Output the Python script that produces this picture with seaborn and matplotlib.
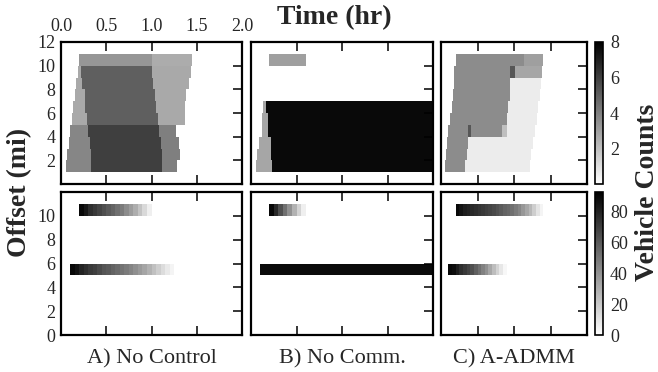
import numpy as np
import pandas as pd
import matplotlib
matplotlib.use("Agg")
import matplotlib.pyplot as plt
import seaborn as sns

sns.set_style("white")
plt.rcParams["font.family"] = ["Liberation Serif", "DejaVu Serif"]
plt.rcParams["axes.axisbelow"] = False

panel_names = ["A) No Control", "B) No Comm.", "C) A-ADMM"]
offsets = list(range(11, -1, -1))          # 1 mi rows, top to bottom
time_ticks = [0.0, 0.5, 1.0, 1.5, 2.0]
density_ticks = [2, 4, 6, 8]
queue_ticks = [0, 20, 40, 60, 80]

# mainline vehicle counts: (offset mi, start hr, end hr, count)
density_no_control = [
    (10, 0.20, 1.00, 3.3), (10, 1.00, 1.45, 2.6),
    (9, 0.19, 0.21, 2.7), (9, 0.21, 1.00, 5.0), (9, 1.00, 1.43, 2.7),
    (8, 0.17, 0.24, 2.7), (8, 0.24, 1.02, 5.0), (8, 1.02, 1.41, 2.7),
    (7, 0.155, 0.26, 2.7), (7, 0.26, 1.04, 5.0), (7, 1.04, 1.39, 2.7),
    (6, 0.135, 0.275, 2.7), (6, 0.275, 1.05, 5.0), (6, 1.05, 1.37, 2.7),
    (5, 0.117, 0.29, 2.7), (5, 0.29, 1.07, 5.0), (5, 1.07, 1.36, 2.7),
    (4, 0.10, 0.30, 3.8), (4, 0.30, 1.09, 6.0), (4, 1.09, 1.26, 4.0),
    (3, 0.08, 0.31, 3.8), (3, 0.31, 1.10, 6.0), (3, 1.10, 1.30, 4.0),
    (2, 0.062, 0.33, 3.8), (2, 0.33, 1.11, 6.0), (2, 1.11, 1.31, 4.0),
    (1, 0.044, 0.34, 3.8), (1, 0.34, 1.12, 6.0), (1, 1.12, 1.29, 4.0),
]
density_no_comm = [
    (10, 0.20, 0.60, 3.0),
    (6, 0.135, 0.165, 2.8), (6, 0.165, 2.00, 7.7),
    (5, 0.125, 0.18, 2.8), (5, 0.18, 2.00, 7.7),
    (4, 0.11, 0.19, 2.8), (4, 0.19, 2.00, 7.7),
    (3, 0.09, 0.21, 2.8), (3, 0.21, 2.00, 7.7),
    (2, 0.07, 0.22, 2.8), (2, 0.22, 2.00, 7.7),
    (1, 0.055, 0.24, 2.8), (1, 0.24, 2.00, 7.7),
]
density_admm = [
    (10, 0.205, 1.13, 3.6), (10, 1.13, 1.40, 3.0),
    (9, 0.19, 0.955, 3.6), (9, 0.955, 1.01, 5.3), (9, 1.01, 1.38, 2.8),
    (8, 0.18, 0.955, 3.6), (8, 0.955, 1.36, 0.6),
    (7, 0.16, 0.945, 3.6), (7, 0.945, 1.35, 0.6),
    (6, 0.146, 0.92, 3.6), (6, 0.92, 1.33, 0.6),
    (5, 0.123, 0.90, 3.6), (5, 0.90, 1.31, 0.6),
    (4, 0.10, 0.36, 3.6), (4, 0.36, 0.42, 5.3), (4, 0.42, 0.83, 3.6),
    (4, 0.83, 0.90, 2.0), (4, 0.90, 1.28, 0.6),
    (3, 0.078, 0.375, 3.6), (3, 0.375, 1.26, 0.6),
    (2, 0.064, 0.35, 3.6), (2, 0.35, 1.24, 0.6),
    (1, 0.046, 0.34, 3.6), (1, 0.34, 1.22, 0.6),
]

# on-ramp queues: (offset mi, start hr, counts every 0.05 hr)
queue_no_control = [
    (10, 0.20, [90, 84, 76, 72, 68, 64, 60, 57, 52, 48, 42, 36, 30, 22, 14, 6]),
    (5, 0.10, [90, 86, 80, 76, 72, 70, 66, 62, 60, 57, 54, 51, 48, 45, 41, 37,
               33, 28, 23, 18, 13, 8, 4]),
]
queue_no_comm = [
    (10, 0.20, [90, 78, 64, 52, 40, 28, 16, 6]),
]
queue_no_comm_blocked = [(5, 0.10, 2.00, 89)]
queue_admm = [
    (10, 0.20, [90, 86, 82, 80, 78, 76, 74, 72, 70, 68, 66, 63, 60, 57, 55, 52,
                48, 44, 38, 32, 26, 18, 10, 4]),
    (5, 0.10, [90, 88, 82, 76, 72, 68, 64, 58, 52, 46, 40, 32, 24, 16, 9, 3]),
]

T_MAX = 2.0
DT_TOP = 1 / 60
DT_BOT = 0.05


def build_grid(dt, segments=(), ramps=()):
    n = int(round(T_MAX / dt))
    grid = np.zeros((len(offsets), n))
    centers = (np.arange(n) + 0.5) * dt
    for off, t0, t1, val in segments:
        grid[offsets.index(off), (centers >= t0) & (centers < t1)] = val
    for off, t0, vals in ramps:
        first = int(round(t0 / dt))
        grid[offsets.index(off), first:first + len(vals)] = vals
    return pd.DataFrame(grid, index=offsets)


top_grids = [build_grid(DT_TOP, density_no_control),
             build_grid(DT_TOP, density_no_comm),
             build_grid(DT_TOP, density_admm)]
bot_grids = [build_grid(DT_BOT, ramps=queue_no_control),
             build_grid(DT_BOT, queue_no_comm_blocked, queue_no_comm),
             build_grid(DT_BOT, ramps=queue_admm)]

W, H = 658, 372
fig = plt.figure(figsize=(W / 100, H / 100), dpi=100)


def px_axes(x0, y0, x1, y1):
    return fig.add_axes([x0 / W, 1 - y1 / H, (x1 - x0) / W, (y1 - y0) / H])


cols_px = [(61, 242), (251, 433), (441, 587)]
rows_px = [(42, 184), (192, 335)]
cax_top = px_axes(595, 42, 603, 184)
cax_bot = px_axes(595, 192, 603, 335)

for r, (grids, vmax, ticks, yvals, cax) in enumerate([
        (top_grids, 8, density_ticks, [2, 4, 6, 8, 10, 12], cax_top),
        (bot_grids, 93, queue_ticks, [0, 2, 4, 6, 8, 10], cax_bot)]):
    dt = DT_TOP if r == 0 else DT_BOT
    for c, grid in enumerate(grids):
        ax = px_axes(cols_px[c][0], rows_px[r][0], cols_px[c][1], rows_px[r][1])
        last = c == 2
        sns.heatmap(grid, ax=ax, cmap="gray_r", vmin=0, vmax=vmax,
                    xticklabels=False, yticklabels=False,
                    cbar=last, cbar_ax=cax if last else None)
        ax.set_axisbelow(False)
        for sp in ax.spines.values():
            sp.set_visible(True)
            sp.set_linewidth(1.6)
            sp.set_color("black")
        ax.set_xticks([t / dt for t in time_ticks])
        ax.set_yticks([12 - v for v in yvals])
        ax.tick_params(axis="both", direction="in", length=6.5, width=1.1,
                       color="black", labelsize=13, pad=5)
        ax.tick_params(axis="x", top=True, bottom=True,
                       labeltop=(r == 0 and c == 0), labelbottom=False)
        ax.tick_params(axis="y", left=False, right=True,
                       labelleft=(c == 0), labelright=False, pad=4)
        if r == 0 and c == 0:
            ax.set_xticklabels([f"{t:.1f}" for t in time_ticks])
        if c == 0:
            ax.set_yticklabels([str(v) for v in yvals], rotation=0)
        ax.set_xlabel("")
        ax.set_ylabel("")
        if r == 1:
            ax.text(0.5, -0.165, panel_names[c], transform=ax.transAxes,
                    ha="center", va="center", fontsize=16)
        if last:
            cb = ax.collections[0].colorbar
            cb.set_ticks(ticks)
            cb.outline.set_visible(True)
            cb.outline.set_linewidth(1.2)
            cb.outline.set_edgecolor("black")
            cb.ax.tick_params(labelsize=13, length=0, pad=5)

fig.text(334 / W, 1 - 18 / H, "Time (hr)", ha="center", va="center",
         fontsize=20, fontweight="bold")
fig.text(20 / W, 1 - 192 / H, "Offset (mi)", ha="center", va="center",
         rotation=90, fontsize=20, fontweight="bold")
fig.text(647 / W, 1 - 192 / H, "Vehicle Counts", ha="center", va="center",
         rotation=90, fontsize=20, fontweight="bold")

fig.savefig("out.png", dpi=100)
